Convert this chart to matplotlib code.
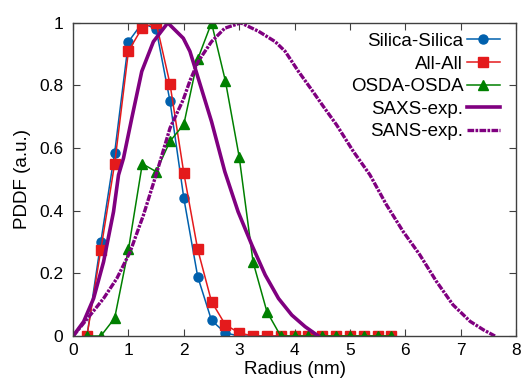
import numpy as np
import matplotlib
matplotlib.use("Agg")
import matplotlib.pyplot as plt

plt.rcParams['font.family'] = ['Liberation Sans', 'DejaVu Sans']

# radius grid of the simulated curves
r_sim = np.arange(1, 24) * 0.25

silica = [0.0, 0.30, 0.585, 0.94, 1.0, 0.98, 0.75, 0.44, 0.19, 0.05, 0.01, 0.0,
          0.0, 0.0, 0.0, 0.0, 0.0, 0.0, 0.0, 0.0, 0.0, 0.0, 0.0]
allall = [0.0, 0.275, 0.55, 0.91, 0.985, 1.0, 0.805, 0.52, 0.277, 0.11, 0.036, 0.01,
          0.0, 0.0, 0.0, 0.0, 0.0, 0.0, 0.0, 0.0, 0.0, 0.0, 0.0]
osda = [0.0, 0.0, 0.057, 0.277, 0.55, 0.525, 0.622, 0.676, 0.884, 1.0, 0.815, 0.572,
        0.237, 0.078, 0.0, 0.0, 0.0, 0.0, 0.0, 0.0, 0.0, 0.0, 0.0]

# experimental curves
saxs_r = [0.0, 0.19, 0.37, 0.55, 0.73, 0.82, 0.91, 1.06, 1.24, 1.45, 1.71, 1.99,
          2.11, 2.26, 2.50, 2.74, 2.98, 3.23, 3.47, 3.71, 3.95, 4.19, 4.43]
saxs_p = [0.0, 0.046, 0.12, 0.237, 0.397, 0.514, 0.568, 0.696, 0.845, 0.94, 1.0, 0.951,
          0.909, 0.823, 0.685, 0.525, 0.397, 0.29, 0.195, 0.12, 0.067, 0.03, 0.0]

sans_r = [0.0, 0.31, 0.55, 0.79, 1.03, 1.27, 1.49, 1.75, 1.99, 2.11, 2.26, 2.50,
          2.74, 3.03, 3.35, 3.65, 3.83, 4.07, 4.31, 4.52, 4.76, 5.06, 5.36, 5.66,
          5.96, 6.26, 6.56, 6.86, 7.17, 7.41, 7.62]
sans_p = [0.0, 0.067, 0.12, 0.184, 0.269, 0.386, 0.51, 0.664, 0.755, 0.815, 0.877, 0.94,
          0.983, 1.0, 0.973, 0.94, 0.909, 0.845, 0.786, 0.733, 0.674, 0.59, 0.515, 0.419,
          0.334, 0.26, 0.175, 0.1, 0.047, 0.02, 0.0]

fig = plt.figure(figsize=(5.26, 3.81), dpi=100)
ax = fig.add_axes([0.139, 0.118, 0.842, 0.822])

ax.plot(r_sim, silica, color='#0060ad', marker='o', ms=6.5, lw=1.1, label='Silica-Silica')
ax.plot(r_sim, allall, color='#e41a1c', marker='s', ms=6.5, lw=1.1, label='All-All')
ax.plot(r_sim, osda, color='#008000', marker='^', ms=7, lw=1.1, label='OSDA-OSDA')
ax.plot(saxs_r, saxs_p, color='#800080', lw=2.6, label='SAXS-exp.')
ax.plot(sans_r, sans_p, color='#800080', lw=2.4, ls=(0, (2.0, 0.4, 0.8, 0.4)), label='SANS-exp.')

ax.set_xlim(0, 8)
ax.set_ylim(0, 1)
ax.set_xticks(range(0, 9))
ax.set_yticks([0, 0.2, 0.4, 0.6, 0.8, 1.0])
ax.set_yticklabels(['0', '0.2', '0.4', '0.6', '0.8', '1'])
ax.tick_params(axis='both', direction='in', top=True, right=True, length=5, width=0.8,
               color='#404040', labelsize=12.5)
ax.tick_params(axis='y', pad=7)
ax.tick_params(axis='x', pad=5)
for s in ax.spines.values():
    s.set_color('#404040')
    s.set_linewidth(1.0)

ax.set_xlabel('Radius (nm)', fontsize=13.5, labelpad=2)
ax.set_ylabel('PDDF (a.u.)', fontsize=13.5, labelpad=6)

ax.legend(loc='upper right', bbox_to_anchor=(0.972, 0.98), frameon=False,
          markerfirst=False, fontsize=13.5, handlelength=1.75, handletextpad=0.2,
          labelspacing=0.29, borderpad=0.2, borderaxespad=0.0)

fig.savefig('out.png', dpi=100)
